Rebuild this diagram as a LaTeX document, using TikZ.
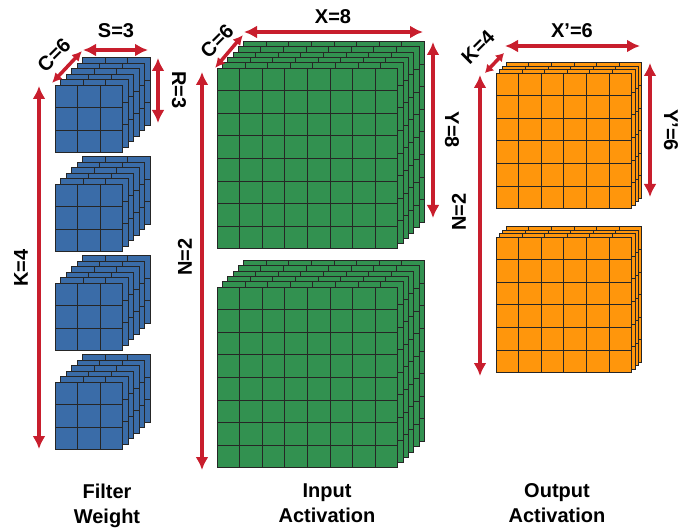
\documentclass[tikz,border=0pt]{standalone}
\usepackage{fontspec}
\setmainfont{Liberation Sans}
\usetikzlibrary{arrows.meta}

\definecolor{dimred}{RGB}{200,30,45}
\definecolor{wblue}{RGB}{58,108,168}
\definecolor{igreen}{RGB}{50,145,80}
\definecolor{oorange}{RGB}{255,150,12}

\newcommand{\cellsz}{22.6}
% stack of feature maps: front top-left x, y, cells per side, layers, layer offset, fill
\newcommand{\fmapstack}[6]{%
  \foreach \l in {#4,...,1}{%
    \pgfmathsetmacro{\off}{(\l-1)*#5}%
    \pgfmathtruncatemacro{\nm}{#3-1}%
    \begin{scope}[shift={(#1+\off,#2-\off)}]
      \filldraw[fill=#6,layerline] (0,0) rectangle (#3*\cellsz,#3*\cellsz);
      \foreach \k in {1,...,\nm}{%
        \draw[layerline] (\k*\cellsz,0) -- (\k*\cellsz,#3*\cellsz);
        \draw[layerline] (0,\k*\cellsz) -- (#3*\cellsz,\k*\cellsz);
      }
    \end{scope}
  }%
}

\begin{document}
\begin{tikzpicture}[x=1pt,y=-1pt,
  layerline/.style={draw=black!85,line width=0.8pt},
  dimarrow/.style={draw=dimred,line width=4.5pt,{Latex[length=13pt,width=13pt]}-{Latex[length=13pt,width=13pt]}},
  diagarrow/.style={draw=dimred,line width=3.5pt,{Latex[length=#1,width=10pt]}-{Latex[length=#1,width=10pt]}},
  dimlabel/.style={font=\fontsize{20}{24}\selectfont\bfseries,inner sep=0pt},
  caption/.style={font=\fontsize{20}{25}\selectfont\bfseries,align=center,anchor=north,inner sep=0pt}]

	\useasboundingbox (0,0) rectangle (686,532);

	%filter weights
	\foreach \fy in {85,184,283,382}{
		\fmapstack{55}{\fy}{3}{6}{5.5}{wblue}
	}
	\draw[diagarrow=10pt] (52,83) -- (82,51);
	\draw[dimarrow] (83,50) -- (148,50);
	\draw[dimarrow] (158,58) -- (158,123);
	\draw[dimarrow] (39,86) -- (39,449);
	\node[dimlabel,rotate=45] (fC) at (54,55) {C=6};
	\node[dimlabel] (fS) at (116,31) {S=3};
	\node[dimlabel,rotate=-90] (fR) at (179,90) {R=3};
	\node[dimlabel,rotate=90] (fK) at (21,268) {K=4};

	%input activations
	\fmapstack{217}{68}{8}{6}{5.3}{igreen}
	\fmapstack{217}{287}{8}{6}{5.3}{igreen}
	\draw[diagarrow=10pt] (215,68) -- (243,35);
	\draw[dimarrow] (244,32) -- (423,32);
	\draw[dimarrow] (433,42) -- (433,218);
	\draw[dimarrow] (202,72) -- (202,470);
	\node[dimlabel,rotate=45] (iC) at (217,41) {C=6};
	\node[dimlabel] (iX) at (333,17) {X=8};
	\node[dimlabel,rotate=-90] (iY) at (452,130) {Y=8};
	\node[dimlabel,rotate=90] (iN) at (185,257) {N=2};

	%output activations
	\fmapstack{496}{73}{6}{4}{3.4}{oorange}
	\fmapstack{496}{237}{6}{4}{3.4}{oorange}
	\draw[diagarrow=8pt] (485,73) -- (504,53);
	\draw[dimarrow] (505,46) -- (640,46);
	\draw[dimarrow] (650,63) -- (650,197);
	\draw[dimarrow] (480,75) -- (480,376);
	\node[dimlabel,rotate=45] (oK) at (478,47) {K=4};
	\node[dimlabel] (oX) at (572,31) {X’=6};
	\node[dimlabel,rotate=-90] (oY) at (671,130) {Y’=6};
	\node[dimlabel,rotate=90] (oN) at (459,212) {N=2};

	%captions
	\node[caption] (wcap) at (107,483.5) {Filter\\Weight};
	\node[caption] (icap) at (327,483.5) {Input\\Activation};
	\node[caption] (ocap) at (557,483.5) {Output\\Activation};

\end{tikzpicture}
\end{document}
